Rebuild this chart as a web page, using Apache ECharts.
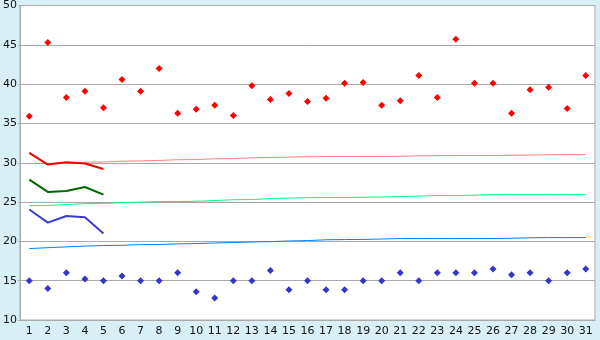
<!DOCTYPE html>
<html><head><meta charset="utf-8">
<script src="https://cdn.jsdelivr.net/npm/echarts@6/dist/echarts.min.js"></script>
<style>html,body{margin:0;padding:0;background:#d9eff6;}#c{width:600px;height:340px;}</style>
</head><body><div id="c"></div>
<script>
var days = [];
for (var d = 1; d <= 31; d++) days.push(String(d));
var yTicks = [10, 15, 20, 25, 30, 35, 40, 45, 50];

var highTemps = [35.9,45.3,38.3,39.1,37.0,40.6,39.1,42.0,36.3,36.8,37.3,36.0,39.8,38.05,38.8,37.8,38.2,40.1,40.2,37.3,37.9,41.1,38.3,45.7,40.1,40.1,36.3,39.3,39.6,36.9,41.1];
var lowTemps = [15.0,14.0,16.0,15.2,15.0,15.6,15.0,15.0,16.0,13.6,12.8,15.0,15.0,16.3,13.85,15.0,13.85,13.85,15.0,15.0,16.0,15.0,16.0,16.0,16.0,16.5,15.75,16.0,15.0,16.0,16.5];

var normalHigh = [29.9,29.92,29.98,30.06,30.1,30.2,30.23,30.3,30.38,30.41,30.5,30.53,30.62,30.66,30.72,30.76,30.79,30.79,30.8,30.8,30.82,30.88,30.9,30.92,30.92,30.93,30.95,30.98,31.02,31.04,31.04];
var normalMean = [24.55,24.58,24.68,24.8,24.82,24.93,25.0,25.06,25.06,25.1,25.19,25.3,25.32,25.45,25.5,25.57,25.57,25.58,25.6,25.65,25.7,25.75,25.83,25.83,25.88,25.95,25.95,25.95,25.95,25.95,25.95];
var normalLow = [19.08,19.2,19.3,19.4,19.47,19.5,19.59,19.6,19.68,19.72,19.8,19.85,19.92,19.97,20.05,20.1,20.2,20.23,20.25,20.3,20.36,20.36,20.36,20.36,20.36,20.36,20.4,20.45,20.48,20.48,20.48];

var recentHigh = [31.25,29.77,30.06,29.9,29.2];
var recentMean = [27.86,26.29,26.41,26.92,25.95];
var recentLow = [24.05,22.39,23.23,23.07,20.99];

var chart = echarts.init(document.getElementById('c'), null, {renderer: 'canvas'});
var font = 'DejaVu Sans';
function line(data, color, width, z) {
  return {type: 'line', data: data, symbol: 'none', z: z, animation: false,
    lineStyle: {color: color, width: width}, itemStyle: {color: color}};
}
function pts(data, color) {
  return {type: 'scatter', data: data, symbol: 'diamond', symbolSize: 7, z: 10, animation: false,
    itemStyle: {color: color, opacity: 1}};
}
chart.setOption({
  backgroundColor: '#d9eff6',
  animation: false,
  grid: {left: 20, right: 5, top: 5.5, bottom: 20, show: true, backgroundColor: '#ffffff', borderColor: '#aaaaaa', borderWidth: 1},
  xAxis: {
    type: 'category', data: days, boundaryGap: true,
    axisLine: {lineStyle: {color: '#aaaaaa'}},
    axisTick: {alignWithLabel: true, length: 5, lineStyle: {color: '#888888'}},
    axisLabel: {color: '#111', fontFamily: font, fontSize: 11, margin: 6, interval: 0},
    splitLine: {show: false}
  },
  yAxis: {
    type: 'value', min: yTicks[0], max: yTicks[yTicks.length - 1], interval: 5,
    axisLine: {show: true, lineStyle: {color: '#aaaaaa'}},
    axisTick: {show: true, length: 2, lineStyle: {color: '#aaaaaa'}},
    axisLabel: {color: '#111', fontFamily: font, fontSize: 11, margin: 3},
    splitLine: {lineStyle: {color: '#aaaaaa', width: 1}}
  },
  series: [
    line(normalHigh, '#ff8080', 1, 2),
    line(normalMean, '#00ff80', 1, 2),
    line(normalLow, '#0080ff', 1, 2),
    line(recentHigh, '#ee0000', 2, 3),
    line(recentMean, '#006600', 2, 3),
    line(recentLow, '#3b3bcc', 2, 3),
    pts(highTemps, '#ff0000'),
    pts(lowTemps, '#3535c8')
  ]
});
</script></body></html>
